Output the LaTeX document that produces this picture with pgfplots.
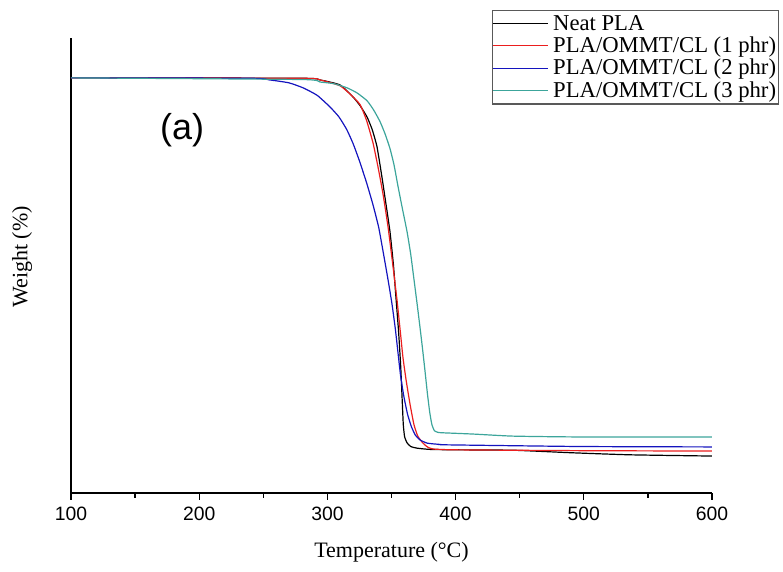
\documentclass[border=0pt]{standalone}
\usepackage{fontspec}
\setmainfont{Liberation Serif}
\setsansfont{Liberation Sans}
\usepackage{pgfplots}
\pgfplotsset{compat=1.18}
\definecolor{c1}{RGB}{0,0,0}
\definecolor{c2}{RGB}{235,30,30}
\definecolor{c3}{RGB}{20,20,190}
\definecolor{c4}{RGB}{60,165,155}
\begin{document}
\begin{tikzpicture}
\useasboundingbox (-53.25pt,-59.25pt) rectangle (534pt,369.75pt);
\begin{axis}[
  at={(0,0)}, anchor=south west,
  scale only axis, width=480.75pt, height=341.25pt,
  xmin=100, xmax=600, ymin=0, ymax=109.6,
  axis x line*=bottom, axis y line*=left,
  axis line style={line width=1.3pt, -},
  xtick={100,200,300,400,500,600},
  minor x tick num=1,
  ytick=\empty,
  tick align=outside,
  major tick length=5pt, minor tick length=3.5pt,
  every tick/.style={black, line width=1pt},
  /pgf/number format/assume math mode=true,
  tick label style={font=\fontsize{14.5}{14.5}\sffamily},
  xticklabel style={yshift=-2pt},
  xlabel={Temperature (\textdegree C)},
  ylabel={Weight (\%)},
  label style={font=\fontsize{16.5}{16.5}\selectfont},
  xlabel style={at={(axis description cs:0.5,-0.13)}, anchor=center},
  ylabel style={at={(axis description cs:-0.0764,0.519)}, anchor=center, rotate=0},
  legend style={at={(axis description cs:0.657,1.0615)}, anchor=north west,
    draw=black!65, line width=0.8pt, fill=white,
    font=\fontsize{17}{19}\selectfont, inner xsep=0pt, inner ysep=1.5pt,
    row sep=-0.5pt, cells={anchor=west},
    /tikz/every odd column/.style={column sep=1.5pt}},
  legend cell align=left,
  legend image code/.code={\draw[#1] (0pt,0pt) -- (41pt,0pt);},
  every axis plot/.append style={line width=0.9pt, smooth, tension=0.3},
]
\addplot[c1] coordinates {
(100,100) (280,99.9) (294.2,99.5) (309.8,98.3) (320.0,95.4) (325.5,93.3) (330.9,90.6) (335,87.5) (338.7,83.4) (342.6,76.0) (345.5,70.0) (348.8,63.0) (351.5,55.0) (353.5,47.0) (355.5,39.0) (357.2,30.4) (358.4,22.0) (359.2,16.5) (360.2,13.6) (362.1,12.1) (365,11.2) (369.9,10.8) (380,10.5) (400,10.4) (445,10.3) (490,9.7) (536,9.2) (600,8.9)};
\addlegendentry{Neat PLA}
\addplot[c2] coordinates {
(100,100) (280,99.9) (294.2,99.5) (309.8,98.1) (318,96.0) (325.4,93.6) (330.5,89.8) (335.6,84.3) (339.5,78.5) (343.4,72.0) (347.3,64.1) (351.0,55.0) (354.3,46.5) (357.0,38.5) (359.0,32.5) (361.5,27.0) (364.4,21.5) (367.5,16.5) (370.5,13.7) (374.6,12.0) (378,11.1) (382.4,10.6) (400,10.4) (497,10.2) (600,10.1)};
\addlegendentry{PLA/OMMT/CL (1 phr)}
\addplot[c3] coordinates {
(100,100) (240,99.9) (255,99.5) (270,98.8) (281,97.6) (292,95.8) (302,93.0) (309,90.6) (315,87.6) (320,84.2) (325,80.0) (330.5,74.8) (335.5,69.5) (340.0,64.0) (344.0,57.2) (347.5,51.0) (350.4,45.5) (353.0,39.5) (355.0,34.0) (357.0,28.5) (359.5,23.5) (362.5,19.0) (365.5,16.0) (368.5,14.0) (372.2,12.8) (378,12.0) (387.8,11.7) (393.3,11.6) (497,11.2) (600,11.1)};
\addlegendentry{PLA/OMMT/CL (2 phr)}
\addplot[c4] coordinates {
(100,100) (280,99.6) (294.2,99.0) (305,98.6) (315.3,97.6) (323,96.4) (330.9,94.5) (336,92.3) (341.0,89.5) (345,86.5) (348.8,83.0) (352,79.0) (355,74.0) (358.5,68.5) (362.1,63.0) (365,57.5) (367.6,51.3) (370.0,45.5) (372.2,40.0) (374.3,34.5) (376.1,29.5) (378.0,24.0) (379.8,19.5) (381.5,16.5) (383.5,15.0) (386.3,14.6) (390.2,14.5) (413.6,14.2) (444.8,13.7) (497,13.5) (600,13.5)};
\addlegendentry{PLA/OMMT/CL (3 phr)}
\node[font=\fontsize{27}{27}\sffamily] at (axis cs:186.6,87.5) {(a)};
\end{axis}
\end{tikzpicture}
\end{document}
